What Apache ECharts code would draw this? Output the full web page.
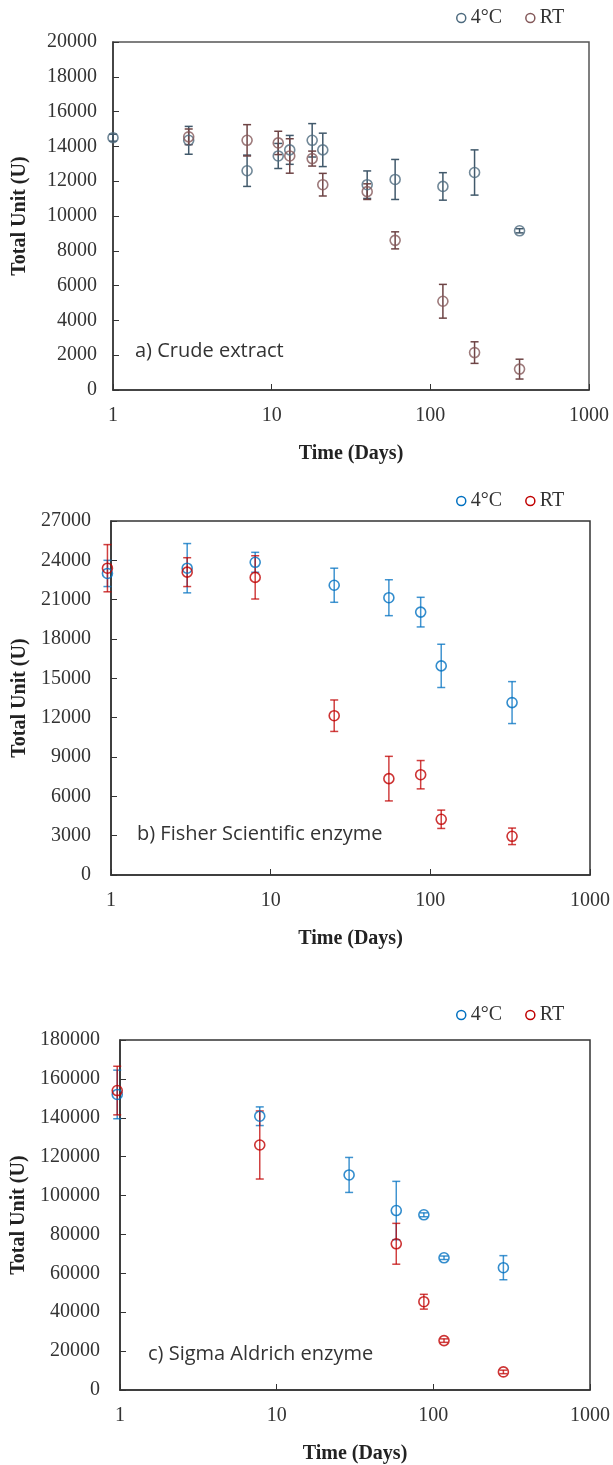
<!DOCTYPE html>
<html>
<head>
<meta charset="utf-8">
<script src="https://cdn.jsdelivr.net/npm/echarts@6/dist/echarts.min.js"></script>
<style>
html, body { margin: 0; padding: 0; background: #fff; }
#main { width: 613px; height: 1465px; }
</style>
</head>
<body>
<div id="main"></div>
<script>
// a) crude extract
var daysA4 = [1, 3, 7, 11, 13, 18, 21, 40, 60, 120, 190, 365];
var valA4 = [14500, 14350, 12600, 13450, 13800, 14350, 13800, 11800, 12100, 11700, 12500, 9150];
var errA4 = [200, 800, 900, 720, 830, 960, 960, 790, 1150, 790, 1300, 120];
var daysAR = [3, 7, 11, 13, 18, 21, 40, 60, 120, 190, 365];
var valAR = [14550, 14350, 14200, 13450, 13300, 11800, 11400, 8600, 5100, 2150, 1200];
var errAR = [450, 900, 670, 990, 430, 650, 450, 490, 970, 620, 570];

// b) Fisher Scientific enzyme
var daysB4 = [0.95, 3, 8, 25, 55, 87, 117, 325];
var valB4 = [23000, 23400, 23850, 22100, 21150, 20050, 15950, 13150];
var errB4 = [1000, 1880, 760, 1300, 1370, 1130, 1650, 1600];
var daysBR = [0.95, 3, 8, 25, 55, 87, 117, 325];
var valBR = [23400, 23100, 22700, 12150, 7350, 7650, 4250, 2950];
var errBR = [1800, 1100, 1650, 1200, 1700, 1080, 700, 630];

// c) Sigma Aldrich enzyme
var daysC4 = [0.96, 7.8, 29, 58, 87, 117, 280];
var valC4 = [152000, 140800, 110600, 92300, 90100, 68000, 62900];
var errC4 = [12500, 4800, 9000, 15000, 1000, 900, 6200];
var daysCR = [0.96, 7.8, 58, 87, 117, 280];
var valCR = [154000, 126000, 75200, 45400, 25400, 9300];
var errCR = [12500, 17500, 10500, 3800, 900, 900];

var xTicks = [1, 10, 100, 1000];
var yMax = [20000, 27000, 180000];
var yStep = [2000, 3000, 20000];
var panelText = ['a) Crude extract', 'b) Fisher Scientific enzyme', 'c) Sigma Aldrich enzyme'];

var colA4 = '#4d6a7e', colAR = '#84595a';
var colB4 = '#0070c0', colBR = '#c00000';
var serif = 'Liberation Serif';

var grids = [
  { left: 113, top: 42, width: 476, height: 348 },
  { left: 111, top: 521, width: 480, height: 354 },
  { left: 120, top: 1040, width: 471, height: 351 }
];
var nameGaps = [83, 81, 90];

function pts(days, vals) {
  return days.map(function (d, i) { return [d, vals[i]]; });
}
function bars(days, vals, errs) {
  return days.map(function (d, i) { return [d, vals[i] - errs[i], vals[i] + errs[i]]; });
}
function errRender(color) {
  return function (params, api) {
    var x = api.value(0);
    var p1 = api.coord([x, api.value(1)]);
    var p2 = api.coord([x, api.value(2)]);
    var w = 4;
    var st = { stroke: color, lineWidth: 1.5 };
    return {
      type: 'group',
      children: [
        { type: 'line', shape: { x1: p1[0], y1: p1[1], x2: p2[0], y2: p2[1] }, style: st },
        { type: 'line', shape: { x1: p1[0] - w, y1: p1[1], x2: p1[0] + w, y2: p1[1] }, style: st },
        { type: 'line', shape: { x1: p2[0] - w, y1: p2[1], x2: p2[0] + w, y2: p2[1] }, style: st }
      ]
    };
  };
}

var series = [];
function addPanel(idx, d4, v4, e4, dR, vR, eR, c4, cR, eb4, ebR) {
  series.push({
    type: 'custom', name: '4°C', xAxisIndex: idx, yAxisIndex: idx, clip: false,
    renderItem: errRender(eb4), encode: { x: 0, y: [1, 2] }, data: bars(d4, v4, e4), z: 2
  });
  series.push({
    type: 'custom', name: 'RT', xAxisIndex: idx, yAxisIndex: idx, clip: false,
    renderItem: errRender(ebR), encode: { x: 0, y: [1, 2] }, data: bars(dR, vR, eR), z: 2
  });
  series.push({
    type: 'scatter', name: '4°C', xAxisIndex: idx, yAxisIndex: idx, clip: false,
    symbol: 'circle', symbolSize: 10, z: 3,
    itemStyle: { color: 'rgba(0,0,0,0)', borderColor: c4, borderWidth: 1.6 },
    data: pts(d4, v4)
  });
  series.push({
    type: 'scatter', name: 'RT', xAxisIndex: idx, yAxisIndex: idx, clip: false,
    symbol: 'circle', symbolSize: 10, z: 3,
    itemStyle: { color: 'rgba(0,0,0,0)', borderColor: cR, borderWidth: 1.6 },
    data: pts(dR, vR)
  });
}
addPanel(0, daysA4, valA4, errA4, daysAR, valAR, errAR, colA4, colAR, '#41596b', '#6e4445');
addPanel(1, daysB4, valB4, errB4, daysBR, valBR, errBR, colB4, colBR, 'rgba(0,112,192,0.75)', 'rgba(192,0,0,0.75)');
addPanel(2, daysC4, valC4, errC4, daysCR, valCR, errCR, colB4, colBR, 'rgba(0,112,192,0.75)', 'rgba(192,0,0,0.75)');

var xAxes = grids.map(function (g, i) {
  return {
    type: 'log', logBase: 10, min: xTicks[0], max: xTicks[xTicks.length - 1], gridIndex: i,
    name: 'Time (Days)', nameLocation: 'middle', nameGap: 54,
    nameTextStyle: { fontFamily: serif, fontSize: 20, fontWeight: 'bold', color: '#222' },
    axisLine: { lineStyle: { color: '#333', width: 1.5 } },
    axisTick: { inside: true, length: 6, lineStyle: { color: '#333' } },
    axisLabel: { margin: 16, fontFamily: serif, fontSize: 20, color: '#333',
      formatter: function (v) { return String(v); } },
    splitLine: { show: false }, minorTick: { show: false }
  };
});
var yAxes = grids.map(function (g, i) {
  return {
    type: 'value', min: 0, max: yMax[i], interval: yStep[i], gridIndex: i,
    name: 'Total Unit (U)', nameLocation: 'middle', nameGap: nameGaps[i],
    nameTextStyle: { fontFamily: serif, fontSize: 20, fontWeight: 'bold', color: '#222' },
    axisLine: { show: true, lineStyle: { color: '#333', width: 1.5 } },
    axisTick: { show: true, inside: true, length: 6, lineStyle: { color: '#333' } },
    axisLabel: { margin: i === 0 ? 16 : 20, fontFamily: serif, fontSize: 20, color: '#333',
      formatter: function (v) { return String(v); } },
    splitLine: { show: false }
  };
});

function legendFor(top, c4, cR) {
  return {
    top: top, left: 456, itemWidth: 9, itemHeight: 9, itemGap: 23, padding: 0,
    icon: 'circle', selectedMode: false,
    textStyle: { fontFamily: serif, fontSize: 20, color: '#333' },
    data: [
      { name: '4°C', itemStyle: { color: 'rgba(0,0,0,0)', borderColor: c4, borderWidth: 1.5 } },
      { name: 'RT', itemStyle: { color: 'rgba(0,0,0,0)', borderColor: cR, borderWidth: 1.5 } }
    ]
  };
}

var textTops = [341, 824, 1344];
var textLefts = [135, 137, 148];

var option = {
  animation: false,
  backgroundColor: '#fff',
  grid: grids.map(function (g, i) {
    return { left: g.left, top: g.top, width: g.width, height: g.height, show: true,
      borderColor: i === 0 ? '#555' : '#333', borderWidth: 1.5, backgroundColor: 'transparent' };
  }),
  title: panelText.map(function (t, i) {
    return { text: t, left: textLefts[i], top: textTops[i], padding: 0,
      textStyle: { fontFamily: 'Open Sans', fontSize: 20, fontWeight: 'normal', color: '#333' } };
  }),
  legend: [legendFor(8, colA4, colAR), legendFor(491, colB4, colBR), legendFor(1005, colB4, colBR)],
  xAxis: xAxes,
  yAxis: yAxes,
  series: series
};

var myChart = echarts.init(document.getElementById('main'));
myChart.setOption(option);
</script>
</body>
</html>
